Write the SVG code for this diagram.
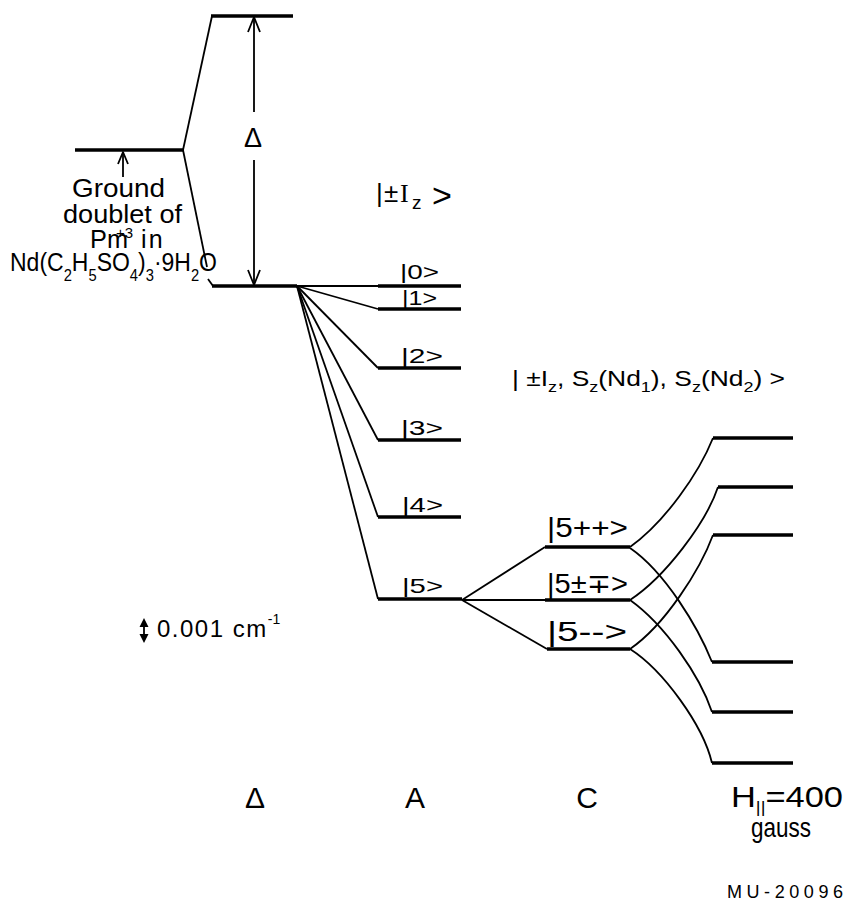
<svg xmlns="http://www.w3.org/2000/svg" width="846" height="905" viewBox="0 0 846 905">
<style>
.lvl{stroke:#000;stroke-width:3.5;fill:none}
.ln{stroke:#000;stroke-width:1.8;fill:none;stroke-linejoin:round}
text{font-family:"Liberation Sans",Arial,"DejaVu Sans",sans-serif;fill:#000}
.ket{font-size:21px}
.ketc{font-size:27px}
.lbl{font-size:25px}
.big{font-size:30px}
.sub{font-size:16px}
</style>
<rect width="846" height="905" fill="#fff"/>

<g id="connectors">
<path class="ln" d="M212,16 L183,150"/>
<path class="ln" d="M183,150 L207,267"/>
<path class="ln" d="M208,279 L213,286"/>
<path class="ln" d="M297,286 L380,286"/>
<path class="ln" d="M297,286 L378,309"/>
<path class="ln" d="M297,286 L378,368"/>
<path class="ln" d="M297,286 L378,440"/>
<path class="ln" d="M297,286 L378,517"/>
<path class="ln" d="M297,286 L378,599"/>
<path class="ln" d="M462,600 L545,547"/>
<path class="ln" d="M462,600 L545,600"/>
<path class="ln" d="M462,600 L547,649"/>
<path class="ln" d="M630,547 C665,522 699,473 713,438"/>
<path class="ln" d="M630,548 C665,572 698,627 712,662"/>
<path class="ln" d="M630,600 C665,577 706,523 718,487"/>
<path class="ln" d="M630,600 C665,625 700,676 712,712"/>
<path class="ln" d="M630,649 C665,625 700,570 713,535"/>
<path class="ln" d="M630,649 C663,670 703,725 712,763"/>
</g>

<g id="level-excited"><line class="lvl" x1="211" y1="16" x2="293" y2="16"/></g>
<g id="level-ground-doublet"><line class="lvl" x1="75" y1="150" x2="184" y2="150"/></g>
<g id="level-nd-ground"><line class="lvl" x1="212" y1="286" x2="297" y2="286"/></g>

<g id="delta-arrow">
<path class="ln" d="M254,18 L254,112 M254,160 L254,284"/>
<path class="ln" d="M248,32 L254,17 L260,32"/>
<path class="ln" d="M248,270 L254,285 L260,270"/>
<text x="253" y="147" text-anchor="middle" font-size="27">Δ</text>
</g>

<g id="label-ground-doublet">
<path class="ln" d="M123,153 L123,177"/>
<path class="ln" d="M118,164 L123,152 L128,164"/>
<text class="lbl"><tspan x="72" y="197" textLength="93" lengthAdjust="spacingAndGlyphs">Ground</tspan><tspan x="63" y="223" textLength="119" lengthAdjust="spacingAndGlyphs">doublet of</tspan><tspan x="90" y="248" textLength="38" lengthAdjust="spacingAndGlyphs">Pm</tspan><tspan dx="-12" dy="-10" font-size="15">+3</tspan><tspan dx="8" dy="10" letter-spacing="2">in</tspan><tspan x="10" y="271" textLength="207" lengthAdjust="spacingAndGlyphs">Nd(C<tspan class="sub" dy="10">2</tspan><tspan dy="-10">H</tspan><tspan class="sub" dy="10">5</tspan><tspan dy="-10">SO</tspan><tspan class="sub" dy="10">4</tspan><tspan dy="-10">)</tspan><tspan class="sub" dy="10">3</tspan><tspan dy="-10">·9H</tspan><tspan class="sub" dy="10">2</tspan><tspan dy="-10">O</tspan></tspan></text>
</g>

<g id="header-A">
<text y="202" font-size="26"><tspan x="376">|</tspan><tspan x="384">±</tspan><tspan x="400" font-family="Liberation Serif, serif">I</tspan><tspan x="412" y="209" font-size="19">z</tspan><tspan x="432" y="207" font-size="34">&gt;</tspan></text>
</g>

<g id="level-0"><line class="lvl" x1="378" y1="286" x2="461" y2="286"/><text class="ket" x="400" y="279" textLength="39" lengthAdjust="spacingAndGlyphs">|0&gt;</text></g>
<g id="level-1"><line class="lvl" x1="378" y1="309" x2="461" y2="309"/><text class="ket" x="402" y="305" textLength="35" lengthAdjust="spacingAndGlyphs">|1&gt;</text></g>
<g id="level-2"><line class="lvl" x1="378" y1="368" x2="461" y2="368"/><text class="ket" x="401" y="363" textLength="42" lengthAdjust="spacingAndGlyphs">|2&gt;</text></g>
<g id="level-3"><line class="lvl" x1="378" y1="440" x2="461" y2="440"/><text class="ket" x="401" y="435" textLength="42" lengthAdjust="spacingAndGlyphs">|3&gt;</text></g>
<g id="level-4"><line class="lvl" x1="378" y1="517" x2="461" y2="517"/><text class="ket" x="402" y="512" textLength="41" lengthAdjust="spacingAndGlyphs">|4&gt;</text></g>
<g id="level-5"><line class="lvl" x1="378" y1="599" x2="462" y2="599"/><text class="ket" x="402" y="593" textLength="41" lengthAdjust="spacingAndGlyphs">|5&gt;</text></g>

<g id="header-C">
<text x="512" y="386" font-size="22" textLength="273" lengthAdjust="spacingAndGlyphs">| ±I<tspan font-size="15" dy="6">z</tspan><tspan dy="-6">, S</tspan><tspan font-size="15" dy="6">z</tspan><tspan dy="-6">(Nd</tspan><tspan font-size="15" dy="6">1</tspan><tspan dy="-6">), S</tspan><tspan font-size="15" dy="6">z</tspan><tspan dy="-6">(Nd</tspan><tspan font-size="15" dy="6">2</tspan><tspan dy="-6">) &gt;</tspan></text>
</g>

<g id="level-5pp"><line class="lvl" x1="545" y1="547" x2="630" y2="547"/><text class="ketc" x="547" y="537" textLength="81" lengthAdjust="spacingAndGlyphs">|5++&gt;</text></g>
<g id="level-5pm"><line class="lvl" x1="545" y1="600" x2="630" y2="600"/><text class="ketc" x="547" y="593" textLength="81" lengthAdjust="spacingAndGlyphs">|5±∓&gt;</text></g>
<g id="level-5mm"><line class="lvl" x1="547" y1="649" x2="630" y2="649"/><text class="ketc" x="547" y="641" textLength="80" lengthAdjust="spacingAndGlyphs">|5--&gt;</text></g>

<g id="level-h1"><line class="lvl" x1="713" y1="438" x2="793" y2="438"/></g>
<g id="level-h2"><line class="lvl" x1="718" y1="487" x2="793" y2="487"/></g>
<g id="level-h3"><line class="lvl" x1="713" y1="535" x2="793" y2="535"/></g>
<g id="level-h4"><line class="lvl" x1="712" y1="662" x2="793" y2="662"/></g>
<g id="level-h5"><line class="lvl" x1="712" y1="712" x2="793" y2="712"/></g>
<g id="level-h6"><line class="lvl" x1="712" y1="763" x2="793" y2="763"/></g>

<g id="scale-bar">
<path d="M144,618 L148.5,627 L139.5,627 Z M144,643 L148.5,634 L139.5,634 Z" fill="#000"/>
<line class="ln" x1="144" y1="626" x2="144" y2="635"/>
<text x="157" y="637" font-size="24" letter-spacing="1.5">0.001 cm<tspan font-size="14" dy="-13" letter-spacing="0">-1</tspan></text>
</g>

<g id="column-labels">
<text class="big" x="255" y="808" text-anchor="middle">Δ</text>
<text class="big" x="415" y="808" text-anchor="middle">A</text>
<text class="big" x="587" y="808" text-anchor="middle">C</text>
<text class="big" x="731" y="807" textLength="112" lengthAdjust="spacingAndGlyphs">H<tspan font-size="16" dy="6">||</tspan><tspan dy="-6">=400</tspan></text>
<text x="781" y="837" font-size="28" text-anchor="middle" textLength="60" lengthAdjust="spacingAndGlyphs">gauss</text>
</g>

<text x="727" y="898" font-size="18" textLength="116">MU-20096</text>
</svg>
